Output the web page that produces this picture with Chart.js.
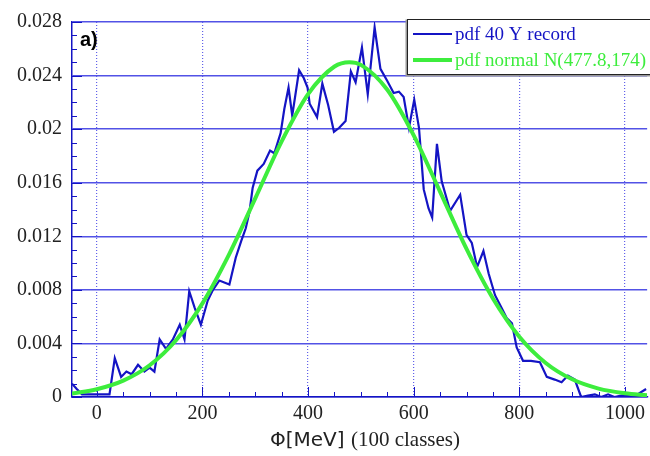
<!DOCTYPE html>
<html>
<head>
<meta charset="utf-8">
<script src="https://cdn.jsdelivr.net/npm/chart.js@4.4.1/dist/chart.umd.min.js"></script>
<style>
  html, body { margin: 0; padding: 0; background: #fff; }
</style>
</head>
<body>
<canvas id="grafico_pdf" width="650" height="456"></canvas>
<script>
// valores
const phiRecord = [-47, -38, -28, -15, 0, 12, 24, 34, 46, 56, 66, 78, 90, 100, 109, 119, 131, 144, 157, 166,
  175, 185, 197, 210, 220, 232, 251, 263, 273, 282, 289, 295, 304, 316, 328, 336, 348, 355, 363, 370,
  383, 392, 399, 403, 417, 427, 438, 449, 459, 471, 481, 490, 502, 513, 526, 537, 550, 562, 572, 581,
  591, 601, 610, 619, 628, 635, 644, 653, 669, 688, 700, 710, 720, 732, 742, 754, 767, 776, 786, 795,
  807, 822, 839, 852, 867, 880, 892, 905, 917, 930, 943, 955, 968, 980, 993, 1005, 1020, 1040]
const pdfRecord = [0.0010, 0.0006, 0.0002, 0.0002, 0.0002, 0.0002, 0.0002, 0.0029, 0.0015, 0.0019, 0.0017, 0.0024, 0.0019, 0.0022, 0.0019, 0.0043, 0.0036, 0.0043, 0.0054, 0.0043,
  0.0079, 0.0067, 0.0054, 0.0072, 0.0080, 0.0087, 0.0084, 0.0104, 0.0116, 0.0126, 0.0138, 0.0156, 0.0169, 0.0174, 0.0184, 0.0182, 0.0197, 0.0215, 0.0231, 0.0210,
  0.0244, 0.0238, 0.0231, 0.0219, 0.0209, 0.0234, 0.0218, 0.0198, 0.0201, 0.0206, 0.0243, 0.0235, 0.0261, 0.0226, 0.0276, 0.0245, 0.0236, 0.0227, 0.0228, 0.0224,
  0.0201, 0.0222, 0.0201, 0.0155, 0.0141, 0.0134, 0.0189, 0.0161, 0.0139, 0.0151, 0.0121, 0.0115, 0.0097, 0.0109, 0.0092, 0.0076, 0.0066, 0.0059, 0.0055, 0.0037,
  0.0027, 0.0027, 0.0026, 0.0015, 0.0013, 0.0011, 0.0016, 0.0013, 0.0000, 0.0001, 0.0002, 0.0000, 0.0002, 0.0000, 0.0001, 0.0001, 0.0001, 0.0006]

const phiNormal = [-47, 0, 50, 100, 150, 200, 250, 300, 350, 400, 450, 478, 500, 550, 600, 650, 700, 750, 800, 850, 900, 950, 1000, 1042]
const pdfNormal = [0.00026, 0.00058, 0.00122, 0.00237, 0.00424, 0.00699, 0.01061, 0.01483, 0.01909, 0.02262, 0.02468, 0.0250,
  0.0248, 0.02294, 0.01954, 0.01532, 0.01106, 0.00736, 0.0045, 0.00254, 0.00132, 0.00063, 0.00028, 0.00013]

const xTicks = [0, 200, 400, 600, 800, 1000]
const yTicks = [0, 0.004, 0.008, 0.012, 0.016, 0.02, 0.024, 0.028]

const azul = '#1414c4'
const verde = '#3ded3d'
const serif = '"Liberation Serif", "Times New Roman", serif'

// ticks menores para dentro, legenda, rótulo e título do eixo x
const extras = {
  id: 'extras',
  beforeDatasetsDraw(chart) {
    const { ctx, chartArea: a, scales: { x, y } } = chart
    ctx.save()
    ctx.strokeStyle = azul
    ctx.lineWidth = 1
    ctx.beginPath()
    for (let k = 0; k <= 28; k++) {
      const py = Math.round(y.getPixelForValue(k / 1000)) + 0.5
      const len = k % 4 === 0 ? 10 : 5
      ctx.moveTo(a.left, py)
      ctx.lineTo(a.left + len, py)
    }
    for (let v = 0; v <= 1040; v += 50) {
      const px = Math.round(x.getPixelForValue(v)) + 0.5
      const len = v % 200 === 0 ? 10 : 5
      ctx.moveTo(px, a.bottom)
      ctx.lineTo(px, a.bottom - len)
    }
    ctx.stroke()
    ctx.restore()
  },
  afterDatasetsDraw(chart) {
    const { ctx } = chart
    ctx.save()
    // legenda
    const bx = 407.5, by = 19.5, bw = 250, bh = 55
    ctx.fillStyle = '#fff'
    ctx.fillRect(bx, by, bw, bh)
    ctx.strokeStyle = '#999'
    ctx.lineWidth = 2
    ctx.beginPath()
    ctx.moveTo(bx - 1, by)
    ctx.lineTo(bx - 1, by + bh + 1)
    ctx.lineTo(bx + bw, by + bh + 1)
    ctx.stroke()
    ctx.strokeStyle = '#222'
    ctx.lineWidth = 1
    ctx.strokeRect(bx, by, bw, bh)
    const ys = [34, 60]
    chart.data.datasets.forEach((ds, i) => {
      ctx.strokeStyle = ds.borderColor
      ctx.lineWidth = i === 0 ? 2 : 4
      ctx.beginPath()
      ctx.moveTo(413, ys[i])
      ctx.lineTo(452, ys[i])
      ctx.stroke()
      ctx.fillStyle = ds.borderColor
      ctx.font = '19px ' + serif
      ctx.textBaseline = 'middle'
      ctx.textAlign = 'left'
      ctx.fillText(ds.label, 455, ys[i] + 1)
    })
    // a)
    ctx.fillStyle = '#000'
    ctx.font = 'bold 20px "Liberation Sans", Arial, sans-serif'
    ctx.textBaseline = 'middle'
    ctx.fillText('a)', 80, 40)
    // título do eixo x
    ctx.textBaseline = 'alphabetic'
    const t1 = 'Φ[MeV] '
    const t2 = '(100 classes)'
    ctx.font = '20px "DejaVu Sans", sans-serif'
    const w1 = ctx.measureText(t1).width
    ctx.font = '21px ' + serif
    const w2 = ctx.measureText(t2).width
    const x0 = 365 - (w1 + w2) / 2
    ctx.fillStyle = '#222'
    ctx.font = '20px "DejaVu Sans", sans-serif'
    ctx.fillText(t1, x0, 446)
    ctx.font = '21px ' + serif
    ctx.fillText(t2, x0 + w1, 446)
    ctx.restore()
  }
}

const data = {
  datasets: [{
    label: 'pdf 40 Y record',
    data: phiRecord.map((v, i) => ({ x: v, y: pdfRecord[i] })),
    showLine: true,
    borderColor: azul,
    borderWidth: 2.2,
    pointRadius: 0,
    tension: 0,
    order: 1
  }, {
    label: 'pdf normal N(477.8,174)',
    data: phiNormal.map((v, i) => ({ x: v, y: pdfNormal[i] })),
    showLine: true,
    borderColor: verde,
    borderWidth: 4,
    pointRadius: 0,
    cubicInterpolationMode: 'monotone',
    order: 0
  }]
}

const config = {
  type: 'scatter',
  data,
  options: {
    responsive: false,
    animation: false,
    layout: { padding: { top: 19, right: 1, left: 0, bottom: 0 } },
    plugins: { legend: { display: false }, tooltip: { enabled: false } },
    scales: {
      x: {
        type: 'linear',
        min: -47,
        max: 1042,
        afterBuildTicks: s => { s.ticks = xTicks.map(v => ({ value: v })) },
        afterFit: s => { s.height = 59 },
        grid: { color: '#6262ea', lineWidth: 1.2, drawTicks: false },
        border: { color: azul, width: 1.5, dash: [1, 2] },
        ticks: {
          color: '#222', padding: 5, font: { family: serif, size: 20 }, maxRotation: 0,
          callback: v => String(v)
        }
      },
      y: {
        min: 0,
        max: 0.028,
        afterBuildTicks: s => { s.ticks = yTicks.map(v => ({ value: v })) },
        afterFit: s => { s.width = 72 },
        grid: { color: '#5252e6', lineWidth: 1.5, drawTicks: false },
        border: { color: azul, width: 1.5 },
        ticks: {
          color: '#222', padding: 10, font: { family: serif, size: 20 },
          callback: v => String(Number(v.toFixed(3)))
        }
      }
    }
  },
  plugins: [extras]
}

const graph = new Chart(document.getElementById('grafico_pdf'), config)
</script>
</body>
</html>
